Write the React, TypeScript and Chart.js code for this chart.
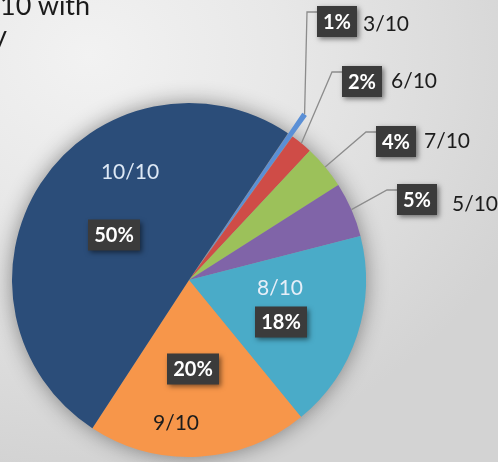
import React, { useEffect, useRef } from "react";
import { Chart, registerables, ArcElement } from "chart.js";

Chart.register(...registerables);

// ---- data ----
const categories = ["3/10", "6/10", "7/10", "5/10", "8/10", "9/10", "10/10"];
const shares = [0.5, 2, 4, 5, 18, 20, 50];
const percentLabels = ["1%", "2%", "4%", "5%", "18%", "20%", "50%"];
const titleLines = ["10 with", "y"];

// ---- styles ----
const sliceColors = ["#5a8fd6", "#cf4c47", "#9cc15a", "#8064a8", "#4aabc8", "#f7964a", "#2b4d79"];
const explodePx = [25, 0, 0, 0, 0, 0, 0];
const FONT = "Lato, 'Open Sans', sans-serif";

// label layout relative to the pie centre (style, not data)
type Lay = { outside: boolean; bx: number; by: number; nx: number; ny: number; nameColor: string };
const layout: Lay[] = [
  { outside: true, bx: 128, by: -274, nx: 6, ny: 3, nameColor: "#1c1c1c" },
  { outside: true, bx: 153, by: -214, nx: 9, ny: 0, nameColor: "#1c1c1c" },
  { outside: true, bx: 187, by: -154, nx: 8, ny: 0, nameColor: "#1c1c1c" },
  { outside: true, bx: 208, by: -96, nx: 15, ny: 5, nameColor: "#1c1c1c" },
  { outside: false, bx: 92, by: 42, nx: 91, ny: 8, nameColor: "#e6eef8" },
  { outside: false, bx: 4, by: 89, nx: -13, ny: 143, nameColor: "#1c1c1c" },
  { outside: false, bx: -75, by: -45, nx: -59, ny: -108, nameColor: "#dde8f5" },
];

const baseArcDraw = (ArcElement as any).prototype.draw;

const labelPlugin = {
  id: "sliceLabels",
  beforeDatasetsDraw(chart: any) {
    const ctx = chart.ctx;
    const meta = chart.getDatasetMeta(0);
    // explode slices by translating their drawing
    meta.data.forEach((el: any, i: number) => {
      const d = explodePx[i] || 0;
      if (!d) return;
      el.draw = function (c: CanvasRenderingContext2D) {
        const mid = (this.startAngle + this.endAngle) / 2;
        c.save();
        c.translate(Math.cos(mid) * d, Math.sin(mid) * d);
        baseArcDraw.call(this, c);
        c.restore();
      };
    });
    const el = meta.data[1];
    if (!el) return;
    const p = el.getProps(["x", "y", "outerRadius"], true);
    ctx.save();
    ctx.shadowColor = "rgba(0,0,0,0.45)";
    ctx.shadowBlur = 22;
    ctx.fillStyle = "#9a9a9a";
    ctx.beginPath();
    ctx.arc(p.x, p.y, p.outerRadius - 1, 0, Math.PI * 2);
    ctx.fill();
    ctx.restore();
  },
  afterDatasetsDraw(chart: any) {
    const ctx = chart.ctx;
    const meta = chart.getDatasetMeta(0);
    meta.data.forEach((el: any, i: number) => {
      const p = el.getProps(["x", "y", "startAngle", "endAngle", "outerRadius"], true);
      const lay = layout[i];
      const cx = p.x;
      const cy = p.y;
      ctx.save();
      ctx.font = `bold 20px ${FONT}`;
      const tw = ctx.measureText(percentLabels[i]).width;
      const bw = Math.round(tw + 12);
      const bh = 31;
      let bx: number;
      let by: number;
      if (lay.outside) {
        bx = cx + lay.bx;
        by = cy + lay.by;
        const mid = (p.startAngle + p.endAngle) / 2;
        const r0 = p.outerRadius + (explodePx[i] || 0);
        const sx = cx + Math.cos(mid) * r0;
        const sy = cy + Math.sin(mid) * r0;
        const ey = by + 6;
        ctx.strokeStyle = "#8c8c8c";
        ctx.lineWidth = 1.3;
        ctx.beginPath();
        ctx.moveTo(sx, sy);
        ctx.lineTo(bx - 10, ey);
        ctx.lineTo(bx, ey);
        ctx.stroke();
      } else {
        bx = cx + lay.bx - bw / 2;
        by = cy + lay.by - bh / 2;
      }
      // dark box with drop shadow
      ctx.save();
      ctx.shadowColor = "rgba(0,0,0,0.5)";
      ctx.shadowBlur = 5;
      ctx.shadowOffsetX = 2;
      ctx.shadowOffsetY = 2;
      ctx.fillStyle = "#3b3b3b";
      ctx.fillRect(bx, by, bw, bh);
      ctx.restore();
      ctx.fillStyle = "#ffffff";
      ctx.textAlign = "center";
      ctx.textBaseline = "middle";
      ctx.fillText(percentLabels[i], bx + bw / 2, by + bh / 2 + 1);
      // category name
      ctx.font = `21px ${FONT}`;
      ctx.fillStyle = lay.nameColor;
      if (lay.outside) {
        ctx.textAlign = "left";
        ctx.fillText(categories[i], bx + bw + lay.nx, by + bh / 2 + lay.ny);
      } else {
        ctx.textAlign = "center";
        ctx.fillText(categories[i], cx + lay.nx, cy + lay.ny);
      }
      ctx.restore();
    });
  },
};

export default function App() {
  const canvasRef = useRef<HTMLCanvasElement | null>(null);

  useEffect(() => {
    if (!canvasRef.current) return;
    const chart = new Chart(canvasRef.current, {
      type: "pie",
      data: {
        labels: categories,
        datasets: [
          {
            data: shares,
            backgroundColor: sliceColors,
            borderWidth: 0,
          } as any,
        ],
      },
      options: {
        responsive: false,
        animation: false,
        events: [],
        rotation: 34,
        radius: 177,
        layout: { padding: { left: 0, right: 120, top: 98, bottom: 0 } },
        plugins: {
          legend: { display: false },
          tooltip: { enabled: false },
          title: { display: false },
        },
      } as any,
      plugins: [labelPlugin],
    });
    const fonts = (document as any).fonts;
    if (fonts && fonts.load) {
      Promise.all([fonts.load(`bold 20px Lato`), fonts.load(`21px Lato`)])
        .then(() => chart.update())
        .catch(() => {});
    }
    return () => chart.destroy();
  }, []);

  return (
    <div
      style={{
        position: "fixed",
        left: 0,
        top: 0,
        width: 498,
        height: 462,
        overflow: "hidden",
        background:
          "radial-gradient(ellipse 95% 90% at 18% 12%, #f2f2f2 0%, #e8e8e8 40%, #dcdcdc 75%, #d3d3d3 100%)",
      }}
    >
      <canvas ref={canvasRef} width={498} height={462} style={{ position: "absolute", left: 0, top: 0 }} />
      <div
        style={{
          position: "absolute",
          left: 0,
          top: -9,
          fontFamily: FONT,
          fontSize: 27,
          lineHeight: "27px",
          color: "#1a1a1a",
          whiteSpace: "nowrap",
        }}
      >
        {titleLines[0]}
      </div>
      <div
        style={{
          position: "absolute",
          left: -7,
          top: 21,
          fontFamily: FONT,
          fontSize: 27,
          lineHeight: "27px",
          color: "#1a1a1a",
          whiteSpace: "nowrap",
        }}
      >
        {titleLines[1]}
      </div>
    </div>
  );
}
